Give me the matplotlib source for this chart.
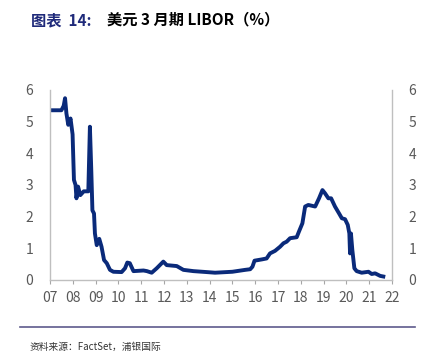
import matplotlib
matplotlib.use("Agg")
import matplotlib.pyplot as plt
from matplotlib.lines import Line2D

plt.rcParams['font.family'] = ['Noto Sans CJK SC', 'DejaVu Sans']

# 3M USD LIBOR (%)
years = [2007.00, 2007.50, 2007.60, 2007.66, 2007.72, 2007.80, 2007.90, 2007.99,
         2008.05, 2008.12, 2008.16, 2008.23, 2008.33, 2008.48, 2008.68, 2008.75,
         2008.81, 2008.86, 2008.93, 2008.97, 2009.05, 2009.16, 2009.26, 2009.37,
         2009.49, 2009.63, 2009.78, 2010.14, 2010.29, 2010.39, 2010.50, 2010.66,
         2011.10, 2011.25, 2011.46, 2011.68, 2011.97, 2012.12, 2012.56, 2012.85,
         2013.29, 2013.87, 2014.24, 2015.00, 2015.56, 2015.78, 2015.88, 2015.97,
         2016.29, 2016.50, 2016.65, 2016.87, 2017.09, 2017.24, 2017.38, 2017.53,
         2017.82, 2017.92, 2018.07, 2018.19, 2018.33, 2018.63, 2018.80, 2018.95,
         2019.06, 2019.21, 2019.33, 2019.50, 2019.68, 2019.80, 2019.94, 2020.06,
         2020.13, 2020.16, 2020.20, 2020.26, 2020.35, 2020.45, 2020.67, 2020.97,
         2021.11, 2021.26, 2021.48, 2021.62]
libor = [5.36, 5.36, 5.50, 5.74, 5.26, 4.90, 5.10, 4.60,
         3.16, 3.00, 2.58, 2.95, 2.68, 2.80, 2.80, 4.84,
         3.47, 2.20, 2.10, 1.47, 1.10, 1.30, 1.05, 0.63,
         0.53, 0.32, 0.26, 0.25, 0.37, 0.55, 0.53, 0.28,
         0.30, 0.28, 0.23, 0.37, 0.58, 0.47, 0.44, 0.32,
         0.28, 0.25, 0.23, 0.26, 0.32, 0.34, 0.42, 0.61,
         0.65, 0.68, 0.84, 0.92, 1.05, 1.16, 1.21, 1.32,
         1.35, 1.53, 1.79, 2.32, 2.37, 2.32, 2.58, 2.84,
         2.74, 2.58, 2.58, 2.32, 2.10, 1.95, 1.92, 1.74,
         1.47, 0.84, 1.47, 0.95, 0.37, 0.28, 0.23, 0.26,
         0.19, 0.21, 0.13, 0.11]

xtick_pos = list(range(2007, 2023))
xtick_labels = [f"{y % 100:02d}" for y in xtick_pos]
yticks = [0, 1, 2, 3, 4, 5, 6]

fig = plt.figure(figsize=(4.30, 3.56), dpi=100)
ax = fig.add_axes([0.1163, 0.2135, 0.7953, 0.5337])
ax.plot(years, libor, color="#0A2A7A", lw=2.8, solid_joinstyle="round")

ax.set_xlim(2007, 2022)
ax.set_ylim(0, 6)
ax.set_xticks(xtick_pos)
ax.set_xticklabels(xtick_labels)
ax.set_yticks(yticks)
ax.tick_params(axis="x", length=3, color="#A6A6A6", labelsize=10,
               labelcolor="#595959", pad=5)
ax.tick_params(axis="y", length=0, labelsize=10, labelcolor="#595959", pad=12)
ax.spines["top"].set_visible(False)
for s in ("left", "right", "bottom"):
    ax.spines[s].set_color("#BFBFBF")
    ax.spines[s].set_linewidth(1)

ax2 = ax.twinx()
ax2.set_ylim(0, 6)
ax2.set_yticks(yticks)
ax2.tick_params(axis="y", length=0, labelsize=10, labelcolor="#595959", pad=12)
for s in ax2.spines.values():
    s.set_visible(False)

fig.text(0.072, 0.944, "图表  14:", color="#1F2A7A", fontsize=11,
         fontweight="bold", va="center")
fig.text(0.248, 0.944, "美元 3 月期 LIBOR（%）", color="black", fontsize=11,
         fontweight="bold", va="center")

fig.add_artist(Line2D([0.0465, 0.965], [0.0815, 0.0815], color="#5E5A8C",
                      lw=1.2, transform=fig.transFigure))
fig.text(0.068, 0.025, "资料来源：FactSet，浦银国际", fontsize=7,
         color="#333333", va="center")

fig.savefig("out.png", dpi=100)
